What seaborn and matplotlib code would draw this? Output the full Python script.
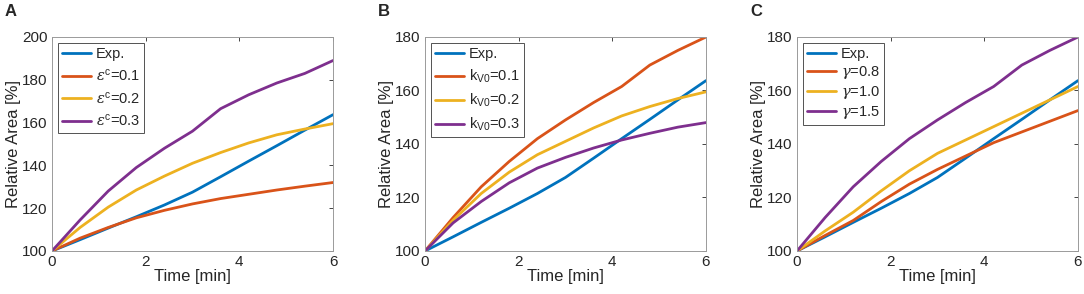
import numpy as np
import pandas as pd
import matplotlib
matplotlib.use("Agg")
import matplotlib.pyplot as plt
import seaborn as sns

# time points [min]
time = [0, 0.6, 1.2, 1.8, 2.4, 3.0, 3.6, 4.2, 4.8, 5.4, 6.0]

# experimental relative area [%]
exp_area = [100, 105.3, 110.7, 116, 121.5, 127.5, 134.7, 142, 149.2, 156.5, 163.7]

# panel A: epsilon^c
eps_01 = [100, 106, 111, 115.5, 119, 122, 124.5, 126.5, 128.5, 130.3, 132]
eps_02 = [100, 111, 120.5, 128.5, 135, 141, 146, 150.5, 154.3, 157, 159.5]
eps_03 = [100, 114.5, 128, 139, 148, 156, 166.5, 173, 178.5, 183, 189]

# panel B: k_V0
kv_01 = [100, 112.5, 124, 133.5, 142, 149, 155.5, 161.5, 169.5, 175, 180]
kv_02 = [100, 111.5, 121.5, 129.5, 136, 141, 146, 150.5, 154, 157, 159.5]
kv_03 = [100, 110.5, 118.5, 125.5, 131, 135, 138.5, 141.5, 144, 146.3, 148]

# panel C: gamma
gam_08 = [100, 105.8, 111.4, 118.5, 125, 130.5, 135.5, 140.5, 144.5, 148.5, 152.5]
gam_10 = [100, 107.5, 114.5, 122.5, 130, 136.5, 141.5, 146.5, 151.5, 156.5, 161.5]
gam_15 = [100, 112.5, 124, 133.5, 142, 149, 155.5, 161.5, 169.5, 175, 180]

labels_a = ["Exp.", r"$\epsilon^{\mathrm{c}}$=0.1", r"$\epsilon^{\mathrm{c}}$=0.2", r"$\epsilon^{\mathrm{c}}$=0.3"]
labels_b = ["Exp.", r"k$_{\mathrm{V0}}$=0.1", r"k$_{\mathrm{V0}}$=0.2", r"k$_{\mathrm{V0}}$=0.3"]
labels_c = ["Exp.", r"$\gamma$=0.8", r"$\gamma$=1.0", r"$\gamma$=1.5"]

colors = ["#0072BD", "#D95319", "#EDB120", "#7E2F8E"]

sns.set_style("white")
plt.rcParams["font.family"] = ["Liberation Sans", "DejaVu Sans"]
plt.rcParams["mathtext.fontset"] = "custom"
plt.rcParams["mathtext.rm"] = "Liberation Sans"
plt.rcParams["mathtext.it"] = "DejaVu Serif:italic"

fig = plt.figure(figsize=(10.84, 2.94), dpi=100)

panels = [
    ("A", 52, [exp_area, eps_01, eps_02, eps_03], labels_a, (100, 200), [100, 120, 140, 160, 180, 200], 0.45),
    ("B", 425, [exp_area, kv_01, kv_02, kv_03], labels_b, (100, 180), [100, 120, 140, 160, 180], 0.45),
    ("C", 797, [exp_area, gam_08, gam_10, gam_15], labels_c, (100, 180), [100, 120, 140, 160, 180], 0.2),
]

W, H = 1084, 294
for letter, left, series, labels, ylim, yticks, lspace in panels:
    ax = fig.add_axes([left / W, 43 / H, 281 / W, 214 / H])
    for vals, lab, col in zip(series, labels, colors):
        df = pd.DataFrame({"Time": time, "Area": vals})
        sns.lineplot(data=df, x="Time", y="Area", color=col, lw=2, label=lab, ax=ax)
    ax.set_xlim(0, 6)
    ax.set_ylim(*ylim)
    ax.set_xticks([0, 2, 4, 6])
    ax.set_yticks(yticks)
    ax.tick_params(direction="in", length=3, width=0.6, colors="#262626",
                   labelsize=11, top=True, right=True, pad=3)
    for s in ax.spines.values():
        s.set_color("#9a9a9a")
        s.set_linewidth(0.7)
    ax.set_xlabel("Time [min]", fontsize=12, color="#262626", labelpad=0)
    ax.set_ylabel("Relative Area [%]", fontsize=12, color="#262626", labelpad=1)
    leg = ax.legend(loc="upper left", fontsize=10.5, frameon=True, fancybox=False,
                    handlelength=2.0, handletextpad=0.3, labelspacing=lspace,
                    borderpad=0.3, borderaxespad=0.4)
    leg.get_frame().set_edgecolor("#262626")
    leg.get_frame().set_linewidth(0.7)
    fig.text((left - 47) / W, 1 - 12 / H, letter, fontsize=12, fontweight="bold",
             va="center", ha="left")

fig.savefig("out.png", dpi=100)
